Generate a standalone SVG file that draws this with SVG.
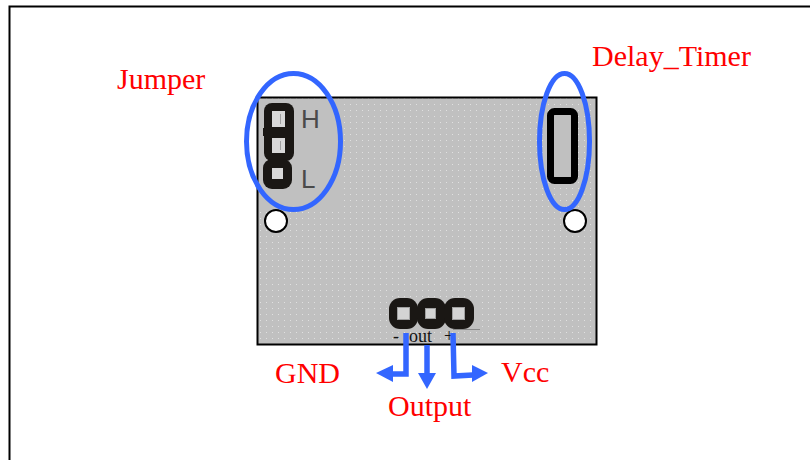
<svg xmlns="http://www.w3.org/2000/svg" width="810" height="460" viewBox="0 0 810 460">
<style>
.lbl{font-family:"Liberation Serif","Times New Roman",serif;font-size:30px;fill:#ff0000}
.silk{font-family:"Liberation Sans",Arial,sans-serif;font-size:26px;fill:#4a4a4a}
.tiny{font-family:"Liberation Serif","Times New Roman",serif;font-size:18px;fill:#111}
.ring{fill:none;stroke:#3366ff;stroke-width:5}
.hole{fill:#fff;stroke:#000;stroke-width:2}
.pad{fill:#d4d4d4;stroke:#a0a0a0;stroke-width:1}
.blk{fill:#1a1714}
.wire{fill:none;stroke:#3366ff;stroke-width:5.5}
.head{fill:#3366ff}
</style>
<defs>
<pattern id="dots" width="6" height="6" patternUnits="userSpaceOnUse">
<rect width="6" height="6" fill="#c0c0c0"/>
<rect x="2" y="2" width="1" height="1" fill="#e0e0e0"/>
</pattern>
</defs>
<rect width="810" height="460" fill="#fff"/>
<path d="M810 6.500H9.500V460" fill="none" stroke="#000" stroke-width="2"/>
<g id="board">
<rect x="257.500" y="97.500" width="339" height="247" fill="url(#dots)" stroke="#000" stroke-width="2"/>
<rect x="259" y="99" width="81" height="108" fill="#c0c0c0"/>
<rect x="387" y="298" width="90" height="30" fill="#c0c0c0"/>
<circle class="hole" cx="276" cy="221" r="11"/>
<circle class="hole" cx="575" cy="221" r="11"/>
</g>
<g id="jumper">
<rect class="blk" x="264" y="103" width="30" height="58" rx="8"/>
<rect class="blk" x="263" y="128" width="22" height="8"/>
<rect class="blk" x="263" y="159" width="29" height="30" rx="9"/>
<rect x="272" y="111" width="13" height="16" fill="#d8d8d8"/>
<rect x="272" y="138" width="13" height="15" fill="#d8d8d8"/>
<path d="M280.500 114V124M280.500 141V150" stroke="#a0a0a0" stroke-width="1" fill="none"/>
<rect x="272" y="168" width="11" height="11" fill="#d8d8d8"/>
<text class="silk" x="301" y="128">H</text>
<text class="silk" x="301" y="188">L</text>
<ellipse class="ring" cx="293.500" cy="141.500" rx="47" ry="68"/>
<text class="lbl" x="117" y="89">Jumper</text>
</g>
<g id="delay_timer">
<rect x="550.500" y="111.500" width="24" height="69" rx="4" fill="#c0c0c0" stroke="#000" stroke-width="7"/>
<ellipse class="ring" cx="564.500" cy="141.500" rx="25" ry="68"/>
<text class="lbl" x="592" y="66">Delay_Timer</text>
</g>
<g id="header">
<rect class="blk" x="389" y="298" width="29" height="31" rx="11"/>
<rect class="blk" x="417" y="298" width="29" height="31" rx="11"/>
<rect class="blk" x="444" y="298" width="30" height="31" rx="11"/>
<rect class="pad" x="397.500" y="307.500" width="12" height="12"/>
<rect class="pad" x="425.500" y="308.500" width="10" height="10"/>
<rect class="pad" x="452.500" y="307.500" width="12" height="12"/>
<path d="M453 329.500H480" stroke="#8a8a8a" stroke-width="1" fill="none"/>
<text class="tiny" x="393" y="342">-</text>
<text class="tiny" x="409" y="342">out</text>
<text class="tiny" x="444" y="342">+</text>
</g>
<g id="connectors">
<path class="wire" d="M406 333V374H392"/>
<path class="head" d="M376 373L393 365V382Z"/>
<path class="wire" d="M427 345V374"/>
<path class="head" d="M427 389L418 373H436Z"/>
<path class="wire" d="M453 333L454 376L473 375"/>
<path class="head" d="M488 373L472 365V382Z"/>
</g>
<g id="gnd"><text class="lbl" x="275" y="383">GND</text></g>
<g id="output"><text class="lbl" x="388" y="416">Output</text></g>
<g id="vcc"><text class="lbl" x="501" y="382">Vcc</text></g>
</svg>
